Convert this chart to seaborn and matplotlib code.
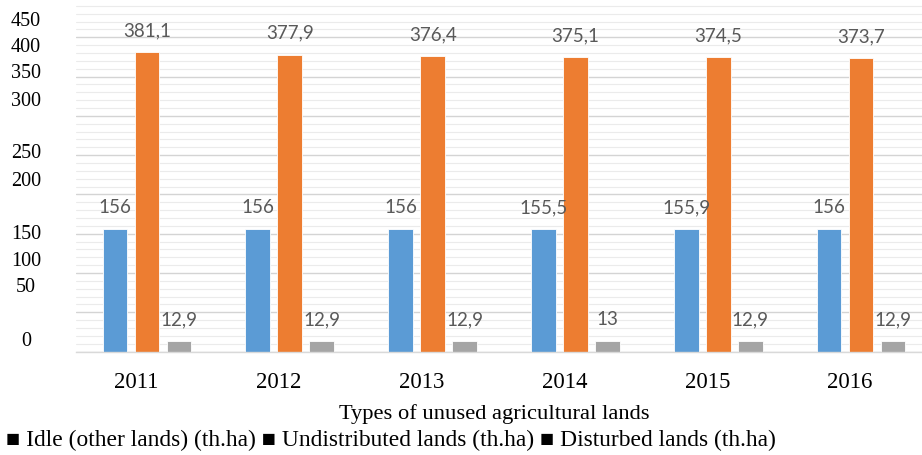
import matplotlib
matplotlib.use("Agg")
import matplotlib.pyplot as plt
import matplotlib.transforms as mtransforms
import seaborn as sns
import pandas as pd
from matplotlib.ticker import MultipleLocator

# Data (thousand hectares)
years = ["2011", "2012", "2013", "2014", "2015", "2016"]
idle = [156, 156, 156, 155.5, 155.9, 156]
undistributed = [381.1, 377.9, 376.4, 375.1, 374.5, 373.7]
disturbed = [12.9, 12.9, 12.9, 13, 12.9, 12.9]
series_names = ["Idle (other lands) (th.ha)",
                "Undistributed lands (th.ha)",
                "Disturbed lands (th.ha)"]
y_labels = ["0", "50", "100", "150", "200", "250", "300", "350", "400", "450"]
x_title = "Types of unused agricultural lands"

colors = ["#5B9BD5", "#ED7D31", "#A5A5A5"]

df = pd.DataFrame({
    "year": years * 3,
    "value": idle + undistributed + disturbed,
    "series": [series_names[0]] * 6 + [series_names[1]] * 6 + [series_names[2]] * 6,
})

sns.set_theme(style="white")
serif = ["Liberation Serif", "DejaVu Serif"]

W, H = 922, 456
fig = plt.figure(figsize=(W / 100, H / 100), dpi=100)
fig.patch.set_facecolor("white")

# plot area in pixels: left 75.6, baseline at 352.5, top at 3
ax = fig.add_axes([75.6 / W, (H - 352.5) / H, 856.8 / W, 349.5 / H])

sns.barplot(data=df, x="year", y="value", hue="series", palette=colors,
            width=0.672, gap=0.22, saturation=1, legend=False, ax=ax,
            edgecolor="white", linewidth=0.6)

ax.set_ylim(0, 445)
ax.set_xlim(-0.5, 5.5)
ax.yaxis.set_major_locator(MultipleLocator(50))
ax.yaxis.set_minor_locator(MultipleLocator(10))
ax.grid(axis="y", which="major", color="#d4d4d4", linewidth=1.0)
ax.grid(axis="y", which="minor", color="#ebebeb", linewidth=0.8)
ax.set_axisbelow(True)
ax.tick_params(axis="y", which="both", left=False, labelleft=False)
for s in ["top", "right", "left"]:
    ax.spines[s].set_visible(False)
ax.spines["bottom"].set_color("#d9d9d9")
ax.spines["bottom"].set_linewidth(1.0)

ax.set_xlabel("")
ax.set_ylabel("")
ax.tick_params(axis="x", length=0, pad=14, labelsize=16.5)
shift = mtransforms.ScaledTranslation(-11 / 100, 0, fig.dpi_scale_trans)
for lbl in ax.get_xticklabels():
    lbl.set_fontfamily(serif)
    lbl.set_color("black")
    lbl.set_transform(lbl.get_transform() + shift)

# value labels above bars (decimal comma)
for cont in ax.containers:
    vals = [r.get_height() for r in cont]
    texts = [(f"{v:g}").replace(".", ",") for v in vals]
    ax.bar_label(cont, labels=texts, padding=10, fontsize=13.5,
                 color="#595959", family=["Lato", "DejaVu Sans"])

# y-axis labels
ylab_px = [342, 288, 262, 235, 182, 154, 102, 74, 48, 22]
for txt, yp in zip(y_labels, ylab_px):
    fig.text(26 / W, 1 - yp / H, txt, ha="center", va="center",
             fontsize=14.5, family=serif, color="black")

fig.text(494 / W, 1 - 414 / H, x_title, ha="center", va="center",
         fontsize=16.2, family=serif, color="black")

legend_line = " ".join("\u25A0 " + n for n in series_names)
fig.text(6 / W, 1 - 440 / H, legend_line, ha="left", va="center",
         fontsize=16.9, family=serif, color="black")

fig.savefig("out.png", dpi=100, facecolor="white")
